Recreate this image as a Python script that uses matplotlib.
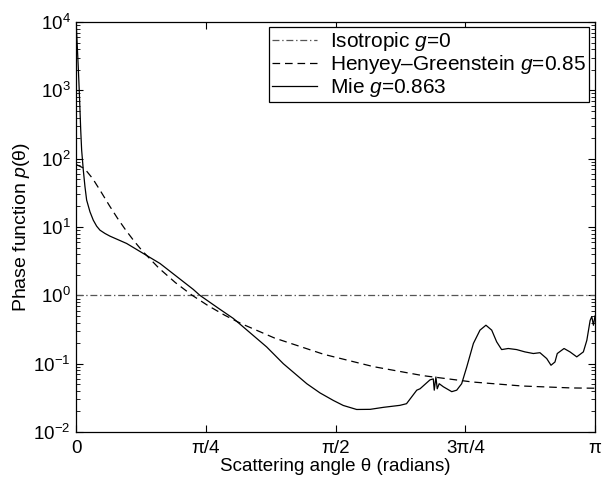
import numpy as np
import matplotlib
matplotlib.use('Agg')
import matplotlib.pyplot as plt
from matplotlib.ticker import LogLocator, NullFormatter

plt.rcParams['font.family'] = ['Liberation Sans', 'DejaVu Sans']
plt.rcParams['mathtext.fontset'] = 'custom'
plt.rcParams['mathtext.rm'] = 'Liberation Sans'
plt.rcParams['mathtext.it'] = 'Liberation Sans:italic'
plt.rcParams['lines.scale_dashes'] = False

# isotropic
iso_theta = [0, np.pi]
iso_p = [1, 1]

# Henyey-Greenstein g=0.85
hg_theta = [0, 0.05, 0.1, 0.15, 0.2, 0.25, 0.3, 0.35, 0.4, 0.5, 0.6, 0.7, 0.8,
            0.9, 1.0, 1.2, 1.5, 1.8, 2.1, 2.4, 2.7, 3.0, np.pi]
hg_p = [82.2, 71.8, 50.9, 32.7, 20.7, 13.4, 8.99, 6.24, 4.47, 2.51, 1.54, 1.01, 0.703,
        0.511, 0.385, 0.238, 0.137, 0.0906, 0.0669, 0.054, 0.0472, 0.0442, 0.0438]

# Mie g=0.863
mie_theta = [0, 0.006, 0.012, 0.018, 0.027, 0.0325, 0.0426, 0.0527, 0.0628, 0.083, 0.103,
             0.1234, 0.1435, 0.174, 0.204, 0.305, 0.507, 0.709, 0.749, 0.86, 0.951, 1.153,
             1.254, 1.396, 1.476, 1.557, 1.617, 1.698, 1.78, 1.86, 1.96, 2.0, 2.062, 2.082,
             2.142, 2.162, 2.168, 2.178, 2.186, 2.198, 2.223, 2.274, 2.304, 2.334, 2.365,
             2.405, 2.445, 2.481, 2.516, 2.546, 2.576, 2.616, 2.667, 2.717, 2.768, 2.808,
             2.849, 2.875, 2.899, 2.913, 2.954, 2.99, 3.031, 3.071, 3.092, 3.112, 3.122,
             3.132, np.pi]
mie_p = [9000, 4500, 2200, 1000, 260, 134, 68, 38.8, 24.8, 16.7, 12.6,
         10.3, 9.0, 8.05, 7.36, 5.75, 2.93, 1.22, 1.0, 0.65, 0.46, 0.176,
         0.1, 0.051, 0.0374, 0.029, 0.0245, 0.0214, 0.0215, 0.023, 0.0246, 0.026, 0.041, 0.043,
         0.058, 0.060, 0.041, 0.064, 0.043, 0.051, 0.046, 0.039, 0.041, 0.051, 0.090,
         0.198, 0.31, 0.366, 0.31, 0.209, 0.161, 0.167, 0.161, 0.149, 0.141, 0.145,
         0.119, 0.095, 0.106, 0.141, 0.167, 0.149, 0.126, 0.149, 0.22, 0.43, 0.49,
         0.366, 0.5]

xticks = [0, np.pi/4, np.pi/2, 3*np.pi/4, np.pi]
xticklabels = ['0', 'π/4', 'π/2', '3π/4', 'π']

fig = plt.figure(figsize=(6.02, 4.79), dpi=100)
ax = fig.add_axes([0.1267, 0.098, 0.8617, 0.856])

ax.semilogy(iso_theta, iso_p, color='#555555', lw=0.9, linestyle=(0, (5, 2, 1, 2)),
            label='Isotropic $g$=0')
ax.semilogy(hg_theta, hg_p, color='black', lw=0.9, linestyle=(0, (5.5, 3.5)),
            label='Henyey\u2013Greenstein $g$=0.85')
ax.semilogy(mie_theta, mie_p, color='black', lw=0.9, label='Mie $g$=0.863')

ax.set_xlim(0, np.pi)
ax.set_ylim(1e-2, 1e4)
ax.set_xticks(xticks)
ax.set_xticklabels(xticklabels)
ax.yaxis.set_major_locator(LogLocator(base=10, numticks=10))
ax.yaxis.set_minor_locator(LogLocator(base=10, subs=np.arange(2, 10), numticks=10))
ax.yaxis.set_minor_formatter(NullFormatter())
ax.tick_params(which='both', direction='in', top=True, right=True, labelsize=13.5)
ax.tick_params(which='major', length=5, width=0.8, pad=4)
ax.tick_params(axis='x', which='major', pad=6)
ax.tick_params(which='minor', length=3, width=0.6)
for s in ax.spines.values():
    s.set_linewidth(0.9)

ax.set_xlabel('Scattering angle θ (radians)', fontsize=13.5, va='center')
ax.xaxis.set_label_coords(0.5, -0.083)
ax.set_ylabel('Phase function $p$(θ)', fontsize=14, labelpad=1)

leg = ax.legend(loc='upper right', bbox_to_anchor=(0.9875, 0.988), borderaxespad=0,
                fontsize=15, handlelength=2.15, handletextpad=0.6, labelspacing=0.0,
                borderpad=0.15, fancybox=False, framealpha=1)
leg.get_frame().set_edgecolor('black')
leg.get_frame().set_linewidth(0.9)

fig.savefig('out.png', dpi=100)
